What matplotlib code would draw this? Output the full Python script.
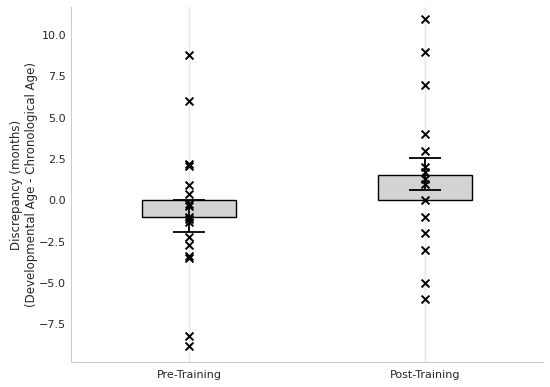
import matplotlib
matplotlib.use('Agg')
import matplotlib.pyplot as plt
import seaborn as sns

groups = ['Pre-Training', 'Post-Training']
bar_means = [-1.0, 1.5]
err_centers = [-0.95, 1.58]
err_halves = [0.95, 0.98]

pre_points = [8.8, 6.0, 2.2, 2.1, 0.9, 0.4, -0.2, -0.35, -1.0, -1.15, -1.3,
              -2.2, -2.7, -3.35, -3.5, -8.25, -8.85]
post_points = [11.0, 9.0, 7.0, 4.0, 3.0, 2.0, 1.7, 1.3, 1.0, 0.0, -1.0,
               -2.0, -3.0, -5.0, -6.0]

sns.set_style('whitegrid')
fig = plt.figure(figsize=(5.5, 3.87), dpi=100)
ax = fig.add_axes([0.129, 0.0646, 0.858, 0.917])

x = list(range(len(groups)))
ax.bar(x, bar_means, width=0.4, color='lightgray', edgecolor='black',
       linewidth=1, zorder=2)
ax.errorbar(x, err_centers, yerr=err_halves, fmt='none', ecolor='black',
            elinewidth=1.3, capsize=11.5, capthick=1.3, zorder=3)

for i, pts in enumerate([pre_points, post_points]):
    ax.scatter([i] * len(pts), pts, marker='x', color='black', s=32,
               linewidths=1.4, zorder=4)

ax.set_xticks(x)
ax.set_xticklabels(groups, fontsize=8)
ax.tick_params(axis='y', labelsize=8)
ax.tick_params(axis='x', pad=6)
ax.set_xlim(-0.5, 1.5)
ax.set_ylim(-9.8, 11.7)
ax.set_ylabel('Discrepancy (months)\n(Developmental Age - Chronological Age)',
              fontsize=8.5, labelpad=1)
ax.grid(axis='y', visible=False)
ax.grid(axis='x', color='#e5e5e5', linewidth=1)
ax.tick_params(axis='both', length=0)
for side in ('top', 'right'):
    ax.spines[side].set_visible(False)
for side in ('left', 'bottom'):
    ax.spines[side].set_color('#cccccc')

plt.savefig('out.png', dpi=100)
